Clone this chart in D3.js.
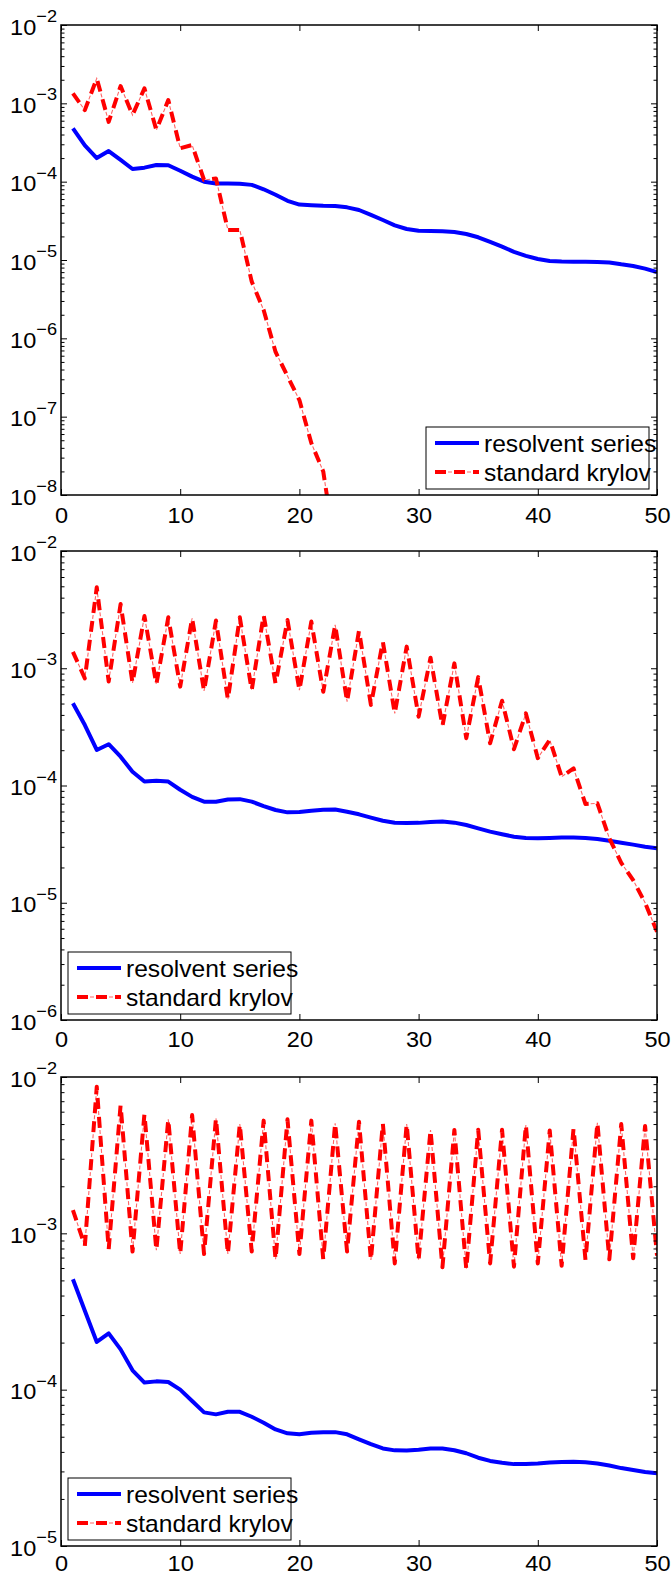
<!DOCTYPE html>
<html>
<head>
<meta charset="utf-8">
<script src="https://cdn.jsdelivr.net/npm/d3@7"></script>
<style>
  body { margin: 0; background: #fff; }
  svg { display: block; }
  text { font-family: "Liberation Sans", Arial, Helvetica, sans-serif; fill: #000; }
</style>
</head>
<body>
<svg id="chart" width="672" height="1576"></svg>
<script>
// ---- data ---------------------------------------------------------------
const iterTicks = [0, 10, 20, 30, 40, 50];
const seriesNames = ["resolvent series", "standard krylov"];

// error per iteration (iteration k = index + 1)
const resolvent1 = [4.8e-4, 2.9e-4, 2.0e-4, 2.46e-4, 1.9e-4, 1.45e-4, 1.51e-4, 1.63e-4, 1.62e-4, 1.38e-4,
  1.16e-4, 1.0e-4, 9.5e-5, 9.5e-5, 9.4e-5, 9.1e-5, 8.0e-5, 6.8e-5, 5.7e-5, 5.1e-5,
  5.0e-5, 4.93e-5, 4.9e-5, 4.7e-5, 4.35e-5, 3.76e-5, 3.24e-5, 2.77e-5, 2.49e-5, 2.37e-5,
  2.35e-5, 2.33e-5, 2.28e-5, 2.15e-5, 1.95e-5, 1.7e-5, 1.48e-5, 1.27e-5, 1.13e-5, 1.03e-5,
  9.7e-6, 9.55e-6, 9.5e-6, 9.5e-6, 9.4e-6, 9.3e-6, 8.8e-6, 8.4e-6, 7.76e-6, 7.0e-6];
const krylov1 = [1.34e-3, 8.2e-4, 2.08e-3, 5.8e-4, 1.66e-3, 7.1e-4, 1.55e-3, 4.57e-4, 1.1e-3, 2.67e-4,
  2.94e-4, 1.05e-4, 1.1e-4, 2.42e-5, 2.42e-5, 5.3e-6, 2.3e-6, 6.7e-7, 3.3e-7, 1.63e-7,
  4.6e-8, 2.0e-8, 2.0e-9];

const resolvent2 = [5.03e-4, 3.28e-4, 2.01e-4, 2.25e-4, 1.76e-4, 1.31e-4, 1.08e-4, 1.1e-4, 1.08e-4, 9.2e-5,
  8.0e-5, 7.28e-5, 7.28e-5, 7.6e-5, 7.65e-5, 7.28e-5, 6.68e-5, 6.18e-5, 5.9e-5, 5.95e-5,
  6.1e-5, 6.2e-5, 6.25e-5, 5.98e-5, 5.68e-5, 5.32e-5, 5.0e-5, 4.82e-5, 4.78e-5, 4.8e-5,
  4.89e-5, 4.92e-5, 4.82e-5, 4.6e-5, 4.31e-5, 4.04e-5, 3.84e-5, 3.66e-5, 3.57e-5, 3.55e-5,
  3.57e-5, 3.6e-5, 3.6e-5, 3.57e-5, 3.5e-5, 3.38e-5, 3.25e-5, 3.13e-5, 3.0e-5, 2.91e-5];
const krylov2 = [1.38e-3, 8.2e-4, 4.9e-3, 7.7e-4, 3.53e-3, 7.5e-4, 2.79e-3, 7.3e-4, 2.72e-3, 6.97e-4,
  2.67e-3, 6.4e-4, 2.55e-3, 5.43e-4, 2.72e-3, 6.5e-4, 2.85e-3, 7.4e-4, 2.58e-3, 6.5e-4,
  2.5e-3, 6.3e-4, 2.34e-3, 5.2e-4, 2.09e-3, 4.86e-4, 1.69e-3, 4.12e-4, 1.53e-3, 3.86e-4,
  1.23e-3, 3.21e-4, 1.1e-3, 2.53e-4, 8.4e-4, 2.29e-4, 5.29e-4, 2.04e-4, 4.12e-4, 1.71e-4,
  2.45e-4, 1.19e-4, 1.4e-4, 6.95e-5, 7.05e-5, 3.55e-5, 2.19e-5, 1.56e-5, 1.0e-5, 5.66e-6];

const resolvent3 = [5.08e-4, 3.2e-4, 2.02e-4, 2.29e-4, 1.81e-4, 1.33e-4, 1.11e-4, 1.13e-4, 1.12e-4, 1.0e-4,
  8.46e-5, 7.16e-5, 6.95e-5, 7.22e-5, 7.22e-5, 6.71e-5, 6.15e-5, 5.57e-5, 5.26e-5, 5.18e-5,
  5.3e-5, 5.35e-5, 5.35e-5, 5.18e-5, 4.81e-5, 4.48e-5, 4.21e-5, 4.09e-5, 4.08e-5, 4.13e-5,
  4.2e-5, 4.21e-5, 4.1e-5, 3.92e-5, 3.67e-5, 3.5e-5, 3.41e-5, 3.34e-5, 3.34e-5, 3.37e-5,
  3.42e-5, 3.45e-5, 3.46e-5, 3.43e-5, 3.37e-5, 3.27e-5, 3.15e-5, 3.06e-5, 2.97e-5, 2.92e-5];
const krylov3 = [1.41e-3, 8.3e-4, 8.67e-3, 7.9e-4, 6.62e-3, 7.64e-4, 5.8e-3, 7.8e-4, 5.36e-3, 7.38e-4,
  5.71e-3, 7.38e-4, 5.44e-3, 7.38e-4, 5.0e-3, 7.64e-4, 5.26e-3, 6.82e-4, 5.36e-3, 7.38e-4,
  5.26e-3, 6.82e-4, 5.06e-3, 7.64e-4, 5.18e-3, 6.75e-4, 5.06e-3, 6.42e-4, 5.0e-3, 6.75e-4,
  4.58e-3, 6.06e-4, 4.58e-3, 5.89e-4, 4.6e-3, 6.42e-4, 4.6e-3, 6.12e-4, 4.93e-3, 6.42e-4,
  4.55e-3, 6.2e-4, 4.7e-3, 6.75e-4, 5.1e-3, 6.82e-4, 5.0e-3, 6.92e-4, 4.86e-3, 7.2e-4];

// decade exponents spanned by each panel's y axis
const decades1 = [-8, -2];
const decades2 = [-6, -2];
const decades3 = [-5, -2];

// ---- layout -------------------------------------------------------------
const svg = d3.select("#chart");
const plotLeft = 61, plotRight = 657;
const panels = [
  { resolvent: resolvent1, krylov: krylov1, decades: decades1, top: 25,   bottom: 495,  labelPad: 12,  legendCorner: "right" },
  { resolvent: resolvent2, krylov: krylov2, decades: decades2, top: 551,  bottom: 1020, labelPad: 11,  legendCorner: "left" },
  { resolvent: resolvent3, krylov: krylov3, decades: decades3, top: 1077, bottom: 1546, labelPad: 9.5, legendCorner: "left" }
];

const BLUE = "#0000ff", RED = "#ff0000";
const tickFont = 22, supFont = 17, legendFont = 23;
const widen = 1.07;   // slightly wide lettering

// dash-dot pattern: thick dash + thin dot in the gap
function drawDashDot(g, d) {
  g.append("path").attr("d", d)
    .attr("fill", "none").attr("stroke", RED).attr("stroke-width", 4)
    .attr("stroke-dasharray", "11,8").attr("stroke-linecap", "butt").attr("stroke-linejoin", "round");
  g.append("path").attr("d", d)
    .attr("fill", "none").attr("stroke", RED).attr("stroke-width", 1.1).attr("stroke-opacity", 0.6)
    .attr("stroke-dasharray", "4,15").attr("stroke-dashoffset", 6).attr("stroke-linecap", "butt");
}

panels.forEach((p, pi) => {
  const g = svg.append("g");
  const x = d3.scaleLinear().domain([0, 50]).range([plotLeft, plotRight]);
  const y = d3.scaleLog().domain([10 ** p.decades[0], 10 ** p.decades[1]]).range([p.bottom, p.top]);

  const majors = d3.range(p.decades[0], p.decades[1] + 1).map(k => 10 ** k);
  const minors = [];
  for (let k = p.decades[0]; k < p.decades[1]; k++)
    for (let m = 2; m <= 9; m++) minors.push(m * 10 ** k);

  // clip region
  const clipId = "clip" + pi;
  g.append("clipPath").attr("id", clipId).append("rect")
    .attr("x", plotLeft).attr("y", p.top).attr("width", plotRight - plotLeft).attr("height", p.bottom - p.top);

  // series
  const line = d3.line().x((d, i) => x(i + 1)).y(d => y(d));
  const lines = g.append("g").attr("clip-path", `url(#${clipId})`);
  lines.append("path").attr("d", line(p.resolvent))
    .attr("fill", "none").attr("stroke", BLUE).attr("stroke-width", 4)
    .attr("stroke-linejoin", "round");
  drawDashDot(lines, line(p.krylov));

  // x axes (bottom with labels, top ticks only)
  const xb = g.append("g").attr("transform", `translate(0,${p.bottom})`)
    .call(d3.axisBottom(x).tickValues(iterTicks).tickSize(-6).tickPadding(p.labelPad).tickFormat(d3.format("d")));
  const xt = g.append("g").attr("transform", `translate(0,${p.top})`)
    .call(d3.axisTop(x).tickValues(iterTicks).tickSize(-6).tickFormat(""));

  // y axes: majors with labels, minors shorter
  const yl = g.append("g").attr("transform", `translate(${plotLeft},0)`)
    .call(d3.axisLeft(y).tickValues(majors).tickSize(-6).tickPadding(4).tickFormat(""));
  const ylm = g.append("g").attr("transform", `translate(${plotLeft},0)`)
    .call(d3.axisLeft(y).tickValues(minors).tickSize(-3.5).tickFormat(""));
  const yr = g.append("g").attr("transform", `translate(${plotRight},0)`)
    .call(d3.axisRight(y).tickValues(majors).tickSize(-6).tickFormat(""));
  const yrm = g.append("g").attr("transform", `translate(${plotRight},0)`)
    .call(d3.axisRight(y).tickValues(minors).tickSize(-3.5).tickFormat(""));

  [xb, xt, yl, ylm, yr, yrm].forEach(a => {
    a.select(".domain").remove();
    a.selectAll(".tick line").attr("stroke", "#000").attr("stroke-width", 1);
    a.attr("font-family", null).attr("font-size", null);
  });
  xb.selectAll(".tick text").attr("font-size", tickFont).attr("fill", "#000")
    .attr("transform", `scale(${widen},1)`);

  // decade labels 10^k
  yl.selectAll(".tick").each(function (d) {
    const t = d3.select(this).select("text")
      .attr("x", -4 / widen).attr("dy", 9).attr("text-anchor", "end").attr("fill", "#000")
      .attr("transform", `scale(${widen},1)`);
    const k = Math.round(Math.log10(d));
    t.append("tspan").attr("font-size", tickFont).text("10");
    t.append("tspan").attr("font-size", supFont).attr("dy", -12.5).text("\u2212" + Math.abs(k));
  });

  // frame
  g.append("rect").attr("x", plotLeft).attr("y", p.top)
    .attr("width", plotRight - plotLeft).attr("height", p.bottom - p.top)
    .attr("fill", "none").attr("stroke", "#000").attr("stroke-width", 1.5);

  // legend
  const lw = 223, lh = 62;
  const lx = p.legendCorner === "right" ? plotRight - 8 - lw : plotLeft + 7;
  const ly = p.bottom - 6 - lh;
  const lg = g.append("g").attr("transform", `translate(${lx},${ly})`);
  lg.append("rect").attr("width", lw).attr("height", lh)
    .attr("fill", "#fff").attr("stroke", "#000").attr("stroke-width", 1);
  const rows = [16, 45];
  lg.append("line").attr("x1", 9).attr("x2", 53).attr("y1", rows[0]).attr("y2", rows[0])
    .attr("stroke", BLUE).attr("stroke-width", 4);
  drawDashDot(lg.append("g"), `M9,${rows[1]}H53`);
  seriesNames.forEach((name, i) => {
    lg.append("text").attr("transform", `translate(58,${rows[i] + 8.5}) scale(${widen},1)`)
      .attr("font-size", legendFont).text(name);
  });
});
</script>
</body>
</html>
